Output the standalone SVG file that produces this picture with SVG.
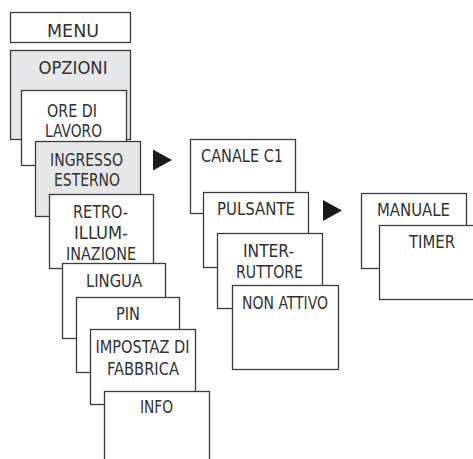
<svg xmlns="http://www.w3.org/2000/svg" width="473" height="459" viewBox="0 0 473 459">
<style>
.b{fill:#ffffff;stroke:#3a3a3a;stroke-width:1.3}
.g{fill:#e6e7e9;stroke:#3a3a3a;stroke-width:1.3}
text{font-family:"DejaVu Sans Condensed","Liberation Sans",sans-serif;font-size:18.5px;fill:#303030;text-anchor:middle}
.a{fill:#1a1a1a}
</style>
<rect width="473" height="459" fill="#ffffff"/>
<g id="menu"><rect class="b" x="10.5" y="12.5" width="120" height="30"/><text x="73" y="37" textLength="52" lengthAdjust="spacingAndGlyphs">MENU</text></g>
<g id="opzioni"><rect class="g" x="10.5" y="50.5" width="120" height="89"/><text x="73" y="74" textLength="69" lengthAdjust="spacingAndGlyphs">OPZIONI</text></g>
<g id="ore-di-lavoro"><rect class="b" x="21.5" y="90.5" width="105" height="75"/><text x="72" y="117" textLength="50" lengthAdjust="spacingAndGlyphs">ORE DI</text><text x="73.5" y="137" textLength="57" lengthAdjust="spacingAndGlyphs">LAVORO</text></g>
<g id="ingresso-esterno"><rect class="g" x="35.5" y="141.5" width="105" height="75"/><text x="86.5" y="166" textLength="73" lengthAdjust="spacingAndGlyphs">INGRESSO</text><text x="87" y="186" textLength="66" lengthAdjust="spacingAndGlyphs">ESTERNO</text></g>
<g id="retroilluminazione"><rect class="b" x="49.5" y="194.5" width="104" height="74"/><text x="100.5" y="218" textLength="55" lengthAdjust="spacingAndGlyphs">RETRO-</text><text x="101" y="239" textLength="54" lengthAdjust="spacingAndGlyphs">ILLUM-</text><text x="101" y="260" textLength="70" lengthAdjust="spacingAndGlyphs">INAZIONE</text></g>
<g id="lingua"><rect class="b" x="62.5" y="263.5" width="103" height="75"/><text x="114" y="287" textLength="56" lengthAdjust="spacingAndGlyphs">LINGUA</text></g>
<g id="pin"><rect class="b" x="76.5" y="297.5" width="103" height="75"/><text x="128" y="320" textLength="24" lengthAdjust="spacingAndGlyphs">PIN</text></g>
<g id="impostaz-di-fabbrica"><rect class="b" x="90.5" y="329.5" width="105" height="75"/><text x="142.5" y="353" textLength="94" lengthAdjust="spacingAndGlyphs">IMPOSTAZ DI</text><text x="143" y="375" textLength="72" lengthAdjust="spacingAndGlyphs">FABBRICA</text></g>
<g id="info"><rect class="b" x="104.5" y="391.5" width="105" height="80"/><text x="156.5" y="413" textLength="33" lengthAdjust="spacingAndGlyphs">INFO</text></g>
<g id="canale-c1"><rect class="b" x="190.5" y="139.5" width="105" height="74"/><text x="242" y="162" textLength="82" lengthAdjust="spacingAndGlyphs">CANALE C1</text></g>
<g id="pulsante"><rect class="b" x="203.5" y="192.5" width="105" height="75"/><text x="256" y="215" textLength="78" lengthAdjust="spacingAndGlyphs">PULSANTE</text></g>
<g id="interruttore"><rect class="b" x="217.5" y="233.5" width="105" height="75"/><text x="268.5" y="257" textLength="51" lengthAdjust="spacingAndGlyphs">INTER-</text><text x="269.5" y="278" textLength="67" lengthAdjust="spacingAndGlyphs">RUTTORE</text></g>
<g id="non-attivo"><rect class="b" x="232.5" y="285.5" width="106" height="84"/><text x="285" y="309" textLength="86" lengthAdjust="spacingAndGlyphs">NON ATTIVO</text></g>
<g id="manuale"><rect class="b" x="361.5" y="193.5" width="105" height="75"/><text x="413.5" y="216" textLength="73" lengthAdjust="spacingAndGlyphs">MANUALE</text></g>
<g id="timer"><rect class="b" x="379.5" y="225.5" width="106" height="74"/><text x="432" y="248" textLength="46" lengthAdjust="spacingAndGlyphs">TIMER</text></g>
<g id="connectors">
<polygon class="a" points="153,149.5 172,160 153,170.5"/>
<polygon class="a" points="323,200 342,210.5 323,221"/>
</g>
</svg>
